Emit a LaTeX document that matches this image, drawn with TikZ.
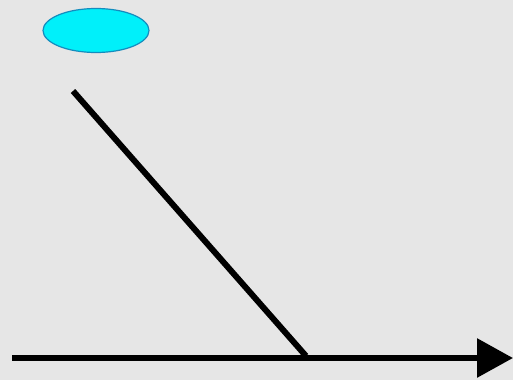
\documentclass[tikz,border=0pt]{standalone}
\usetikzlibrary{arrows.meta,shapes.geometric}
\definecolor{bg}{RGB}{230,230,230}
\definecolor{cyanfill}{RGB}{0,240,250}
\definecolor{cyanedge}{RGB}{20,140,190}
\tikzset{
  blob/.style={ellipse, draw=cyanedge, line width=1.2pt, fill=cyanfill, minimum width=106pt, minimum height=44pt, inner sep=0pt},
  ray/.style={line width=6pt, black},
  axis/.style={line width=6pt, black, -{Triangle[length=36pt,width=38pt]}}
}
\begin{document}
\begin{tikzpicture}[x=1pt,y=-1pt]
\fill[bg] (0,0) rectangle (513,380);
\useasboundingbox (0,0) rectangle (513,380);
\node[blob] (e) at (96,30.5) {};
\coordinate (r1) at (73,91);
\coordinate (r2) at (306,356);
\coordinate (a1) at (12,358);
\coordinate (a2) at (513,358);
\draw[ray] (r1) -- (r2);
\draw[axis] (a1) -- (a2);
\end{tikzpicture}
\end{document}
